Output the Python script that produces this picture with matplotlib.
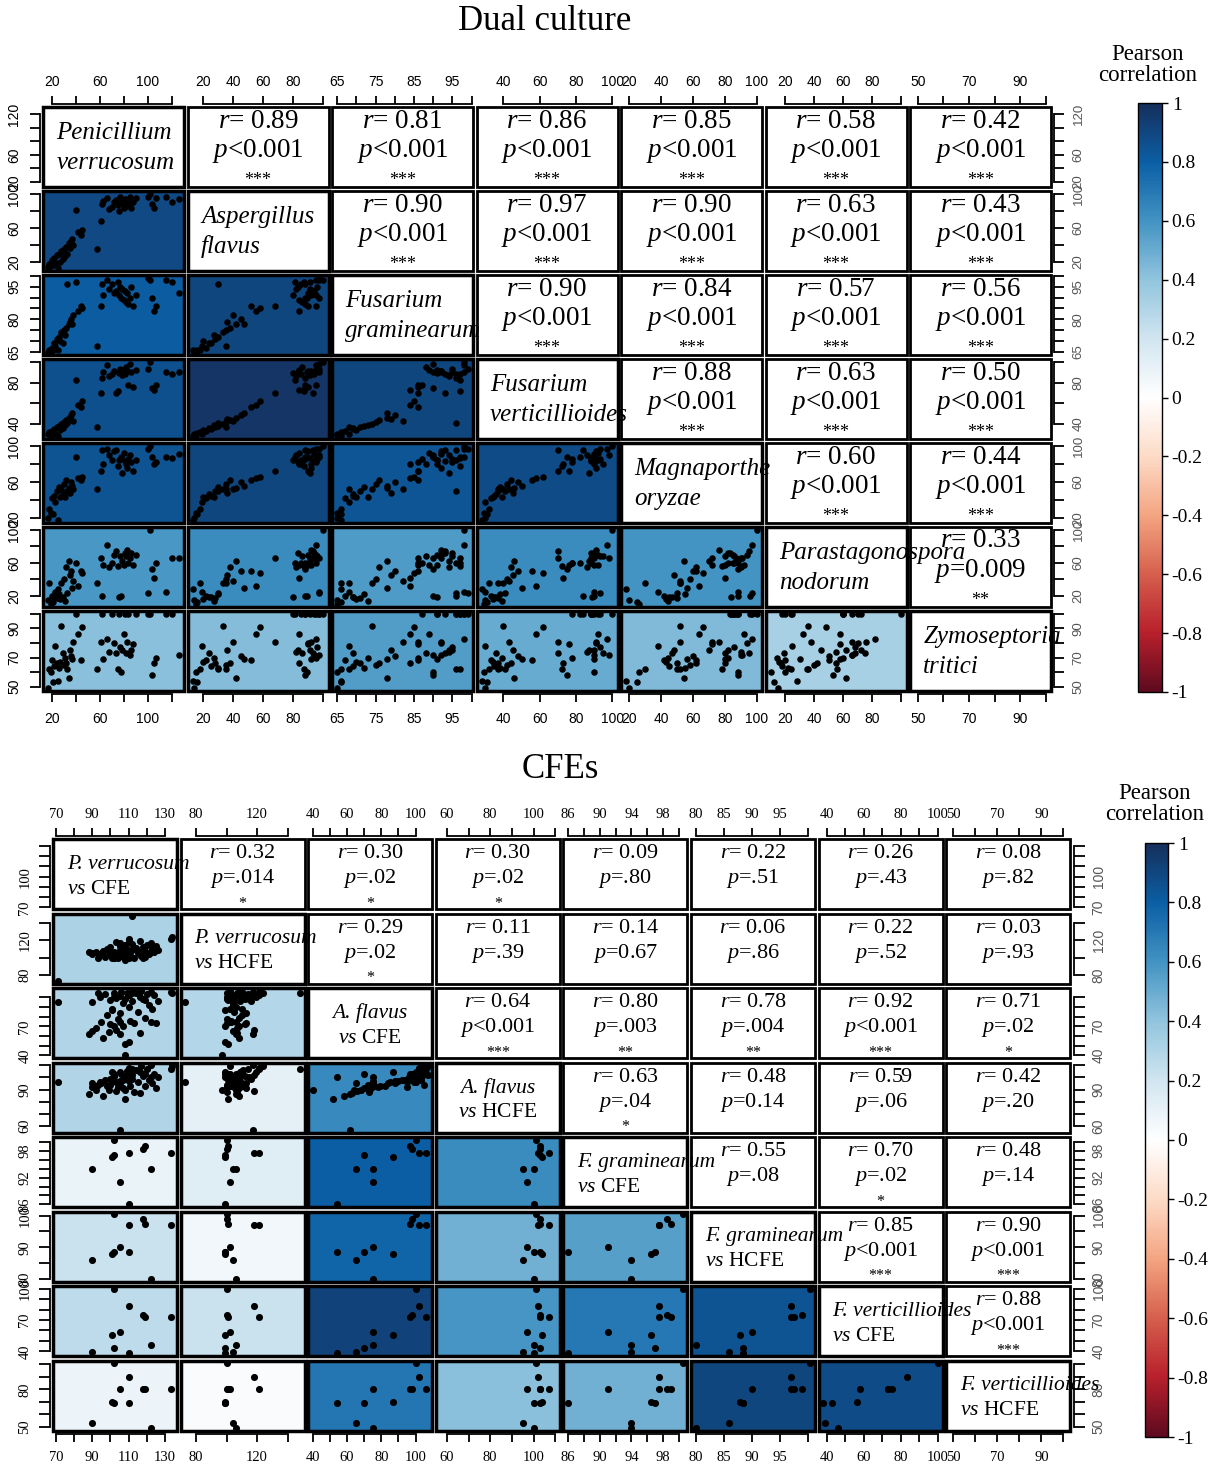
import numpy as np
import matplotlib
matplotlib.use("Agg")
import matplotlib.pyplot as plt
from matplotlib.colors import LinearSegmentedColormap, Normalize
from matplotlib.patches import Rectangle
from matplotlib.cm import ScalarMappable

plt.rcParams['mathtext.fontset'] = 'custom'
plt.rcParams['mathtext.rm'] = 'Liberation Serif'
plt.rcParams['mathtext.it'] = 'Liberation Serif:italic'
SERIF = 'Liberation Serif'
SANS = 'Liberation Sans'

# ---------------------------------------------------------------- data: Dual culture
dual_names = [["Penicillium", "verrucosum"], ["Aspergillus", "flavus"], ["Fusarium", "graminearum"],
              ["Fusarium", "verticillioides"], ["Magnaporthe", "oryzae"],
              ["Parastagonospora", "nodorum"], ["Zymoseptoria", "tritici"]]
p_verrucosum = [17, 18, 19, 20, 21, 22, 23, 24, 25, 26, 27, 28, 29, 30, 31, 32, 33, 34, 35, 36, 37, 38, 40, 42, 44, 45,
                58, 61, 62, 63,
                66, 68, 70, 72, 74, 75, 76, 77, 78, 79, 80, 81, 82, 83, 84, 85, 86, 88, 90,
                100, 102, 104, 105, 107, 115, 120, 126]
a_flavus = [14, 18, 15, 22, 16, 25, 19, 28, 13, 30, 20, 33, 24, 35, 27, 38, 30, 42, 36, 45, 47, 40, 81, 55, 52, 58,
            35, 68, 88, 92,
            95, 82, 85, 90, 93, 87, 80, 96, 89, 91, 84, 94, 86, 92, 88, 97, 83, 90, 95,
            97, 100, 88, 84, 95, 97, 91, 94]
f_graminearum = [65, 66, 65, 67, 66, 69, 68, 71, 66, 72, 70, 74, 69, 75, 73, 76, 96, 78, 79, 80, 78, 82, 97, 84, 86, 85,
                 68, 86, 96, 91,
                 98, 94, 96, 92, 93, 97, 91, 95, 90, 94, 89, 93, 88, 92, 87, 90, 95, 86, 91,
                 99, 98, 90, 84, 86, 98, 97, 92]
f_verticillioides = [30, 32, 29, 33, 31, 35, 30, 37, 28, 38, 34, 40, 36, 42, 39, 44, 41, 46, 45, 48, 50, 43, 82, 58, 56, 62,
                     37, 70, 84, 90,
                     97, 86, 88, 91, 70, 72, 89, 93, 90, 87, 92, 88, 95, 91, 78, 98, 90, 76, 92,
                     93, 100, 75, 73, 78, 90, 88, 90]
m_oryzae = [20, 30, 26, 42, 25, 45, 38, 50, 18, 55, 43, 52, 47, 58, 44, 62, 50, 54, 48, 60, 56, 52, 88, 64, 62, 66,
            52, 72, 96, 80,
            97, 90, 85, 94, 95, 78, 84, 86, 88, 70, 92, 83, 80, 76, 86, 90, 82, 72, 85,
            97, 100, 88, 80, 82, 88, 87, 91]
p_nodorum = [15, 35, 10, 20, 12, 18, 25, 17, 28, 22, 16, 36, 19, 40, 14, 55, 24, 62, 45, 50, 30, 38, 60, 32, 50, 48,
             36, 66, 20, 58,
             82, 55, 60, 70, 75, 56, 18, 68, 20, 62, 58, 72, 68, 76, 60, 66, 72, 58, 70,
             24, 100, 53, 42, 60, 25, 66, 66]
z_tritici = [49, 62, 60, 68, 53, 64, 78, 66, 54, 63, 67, 92, 73, 65, 70, 66, 62, 56, 75, 71, 69, 81, 100, 86, 68, 91,
             62, 81, 100, 69,
             83, 74, 100, 80, 73, 62, 100, 77, 60, 75, 86, 100, 73, 81, 100, 72, 75, 79, 100,
             100, 100, 58, 66, 70, 100, 100, 72]
dual_data = [p_verrucosum, a_flavus, f_graminearum, f_verticillioides, m_oryzae, p_nodorum, z_tritici]

dual_r = [[0.89, 0.81, 0.86, 0.85, 0.58, 0.42],
          [0.90, 0.97, 0.90, 0.63, 0.43],
          [0.90, 0.84, 0.57, 0.56],
          [0.88, 0.63, 0.50],
          [0.60, 0.44],
          [0.33]]
dual_p = [["<0.001"] * 6, ["<0.001"] * 5, ["<0.001"] * 4, ["<0.001"] * 3, ["<0.001"] * 2, ["=0.009"]]
dual_stars = [["***"] * 6, ["***"] * 5, ["***"] * 4, ["***"] * 3, ["***"] * 2, ["**"]]

dual_ticks = [[20, 40, 60, 80, 100, 120], [20, 40, 60, 80, 100], [65, 70, 75, 80, 85, 90, 95, 100],
              [40, 60, 80, 100], [20, 40, 60, 80, 100], [20, 40, 60, 80, 100], [50, 60, 70, 80, 90, 100]]
dual_xlab = [[20, 60, 100], [20, 40, 60, 80], [65, 75, 85, 95], [40, 60, 80, 100],
             [20, 40, 60, 80, 100], [20, 40, 60, 80], [50, 70, 90]]
dual_ylab = [[20, 60, 120], [20, 60, 100], [65, 80, 95], [40, 80], [20, 60, 100], [20, 60, 100], [50, 70, 90]]

# ---------------------------------------------------------------- data: CFEs
NA = np.nan
cfe_names = [("P. verrucosum", "CFE"), ("P. verrucosum", "HCFE"), ("A. flavus", "CFE"), ("A. flavus", "HCFE"),
             ("F. graminearum", "CFE"), ("F. graminearum", "HCFE"), ("F. verticillioides", "CFE"),
             ("F. verticillioides", "HCFE")]
cfe_center = [False, False, True, True, False, False, False, False]
pv_cfe = [88, 90, 92, 94, 95, 96, 97, 98, 99, 100, 100, 101, 102, 103, 103, 104, 105, 105, 106, 107,
          107, 108, 108, 109, 110, 110, 111, 112, 112, 113, 114, 115, 116, 116, 117, 118, 119, 120, 121, 122,
          123, 124, 125, 126, 93,
          71, 112, 134, 108, 105,
          90, 101, 102, 102, 105, 110, 110, 118, 119, 122, 133]
pv_hcfe = [106, 105, 107, 104, 103, 108, 101, 110, 106, 104, 112, 102, 107, 118, 105, 100, 109, 113, 102, 108,
           104, 115, 101, 110, 106, 121, 103, 109, 116, 100, 111, 105, 119, 107, 102, 112, 108, 114, 104, 117,
           110, 106, 113, 109, 100,
           73, 148, 124, 97, 117,
           104, 99, 100, 99, 102, 118, 99, 100, 101, 106, 121]
af_cfe = [62, 95, 68, 100, 75, 58, 103, 82, 64, 97, 72, 88, 104, 66, 99, 78, 101, 84, 106, 70,
          94, 98, 52, 105, 90, 102, 76, 107, 96, 73, 104, 85, 100, 63, 107, 98, 79, 103, 92, 106,
          88, 102, 74, 96, 105,
          95, 105, 105, 40, 62,
          65, 87, 100, 70, 75, 102, 54, 98, 97, 75, 106]
af_hcfe = [86, 92, 90, 96, 95, 85, 98, 93, 90, 99, 94, 97, 101, 89, 96, 92, 104, 95, 103, 91,
           98, 100, 82, 105, 97, 108, 93, 102, 99, 88, 106, 96, 104, 87, 109, 101, 93, 107, 98, 110,
           95, 103, 91, 100, 94,
           96, 107, 109, 90, 57,
           95, 104, 101, 103, 97, 102, 100, 103, 103, 100, 107]
fg_cfe = [NA] * 50 + [94, 96.5, 100.5, 97, 91, 97.5, 86, 98.5, 99, 94, 97.5]
fg_hcfe = [NA] * 50 + [86, 88, 100.5, 88.5, 90, 97, 88.5, 99, 97.5, 80, 97]
fv_cfe = [NA] * 50 + [39, 56, 100, 43, 58, 83, 38, 75, 73, 46, 73]
fv_hcfe = [NA] * 50 + [53, 70, 101, 69, 80, 90, 69, 80, 80.5, 49, 80.5]
cfe_data = [pv_cfe, pv_hcfe, af_cfe, af_hcfe, fg_cfe, fg_hcfe, fv_cfe, fv_hcfe]

cfe_r = [[0.32, 0.30, 0.30, 0.09, 0.22, 0.26, 0.08],
         [0.29, 0.11, 0.14, 0.06, 0.22, 0.03],
         [0.64, 0.80, 0.78, 0.92, 0.71],
         [0.63, 0.48, 0.59, 0.42],
         [0.55, 0.70, 0.48],
         [0.85, 0.90],
         [0.88]]
cfe_p = [["=.014", "=.02", "=.02", "=.80", "=.51", "=.43", "=.82"],
         ["=.02", "=.39", "=0.67", "=.86", "=.52", "=.93"],
         ["<0.001", "=.003", "=.004", "<0.001", "=.02"],
         ["=.04", "=0.14", "=.06", "=.20"],
         ["=.08", "=.02", "=.14"],
         ["<0.001", "<0.001"],
         ["<0.001"]]
cfe_stars = [["*", "*", "*", "", "", "", ""],
             ["*", "", "", "", "", ""],
             ["***", "**", "**", "***", "*"],
             ["*", "", "", ""],
             ["", "*", ""],
             ["***", "***"],
             ["***"]]
cfe_ticks = [[70, 80, 90, 100, 110, 120, 130], [80, 100, 120, 140], [40, 50, 60, 70, 80, 90, 100, 110],
             [60, 70, 80, 90, 100, 110], [86, 88, 90, 92, 94, 96, 98, 100], [80, 85, 90, 95, 100],
             [40, 50, 60, 70, 80, 90, 100], [50, 60, 70, 80, 90, 100]]
cfe_xlab = [[70, 90, 110, 130], [80, 120], [40, 60, 80, 100], [60, 80, 100], [86, 90, 94, 98],
            [80, 85, 90, 95], [40, 60, 80, 100], [50, 70, 90]]
cfe_ylab = [[70, 100], [80, 120], [40, 70, 110], [60, 90], [86, 92, 98], [80, 90, 100], [40, 70, 100], [50, 80]]

cbar_ticks = [1, 0.8, 0.6, 0.4, 0.2, 0, -0.2, -0.4, -0.6, -0.8, -1]
cbar_labels = ["1", "0.8", "0.6", "0.4", "0.2", "0", "-0.2", "-0.4", "-0.6", "-0.8", "-1"]

# ---------------------------------------------------------------- styling
cmap = LinearSegmentedColormap.from_list(
    "corrRdBu", ["#5F0A1F", "#B8202C", "#D6604D", "#F4A582", "#FDDBC7", "#FFFFFF",
                 "#D1E5F0", "#92C5DE", "#4393C3", "#0B5FA5", "#152F5C"])
norm = Normalize(-1, 1)

W, H = 1215, 1467
fig = plt.figure(figsize=(W / 100, H / 100), dpi=100)


def add_ax(x0, y0, w, h):
    return fig.add_axes([x0 / W, 1 - (y0 + h) / H, w / W, h / H])


def fmt(v):
    return str(int(v)) if float(v).is_integer() else str(v)


def draw_grid(data, names, r_up, p_up, s_up, ticks, xlab, ylab, g):
    n = len(data)
    arrs = [np.array(d, dtype=float) for d in data]
    lims = []
    for a in arrs:
        lo, hi = np.nanmin(a), np.nanmax(a)
        pad = 0.04 * (hi - lo)
        lims.append((lo - pad, hi + pad))
    later_texts = []
    for i in range(n):
        for j in range(n):
            x0 = g['left'] + j * g['px']
            y0 = g['top'] + i * g['py']
            ax = add_ax(x0, y0, g['w'], g['h'])
            ax.set_xlim(lims[j])
            ax.set_ylim(lims[i])
            for sp in ax.spines.values():
                sp.set_visible(False)
            ax.tick_params(top=False, bottom=False, left=False, right=False,
                           labeltop=False, labelbottom=False, labelleft=False, labelright=False)
            ax.add_patch(Rectangle((0, 0), 1, 1, transform=ax.transAxes, fill=False,
                                   lw=g['box_lw'] + (0.5 if i >= j else 0), ec='black',
                                   clip_on=False, zorder=6))
            if i > j:
                r = r_up[j][i - j - 1]
                ax.set_facecolor(cmap(norm(r)))
                ax.scatter(arrs[j], arrs[i], s=g['ms'], c='black', linewidths=0, zorder=3)
            elif i < j:
                k = j - i - 1
                ax.text(0.5, g['ry'], r"$\mathit{r}$" + g['req'] + f"{r_up[i][k]:.2f}",
                        transform=ax.transAxes, ha='center', va='center',
                        fontsize=g['fs_r'], family=SERIF)
                ax.text(0.5, g['py_'], r"$\mathit{p}$" + p_up[i][k],
                        transform=ax.transAxes, ha='center', va='center',
                        fontsize=g['fs_r'], family=SERIF)
                if s_up[i][k]:
                    ax.text(0.5, g['sy'], s_up[i][k], transform=ax.transAxes, ha='center',
                            va='baseline', fontsize=g['fs_s'], family=SERIF)
            else:
                later_texts.append((ax, i))
            # outer axes
            if i == 0 or i == n - 1:
                side = 'top' if i == 0 else 'bottom'
                tk = [t for t in ticks[j] if lims[j][0] <= t <= lims[j][1]]
                lb = [fmt(t) if t in xlab[j] else '' for t in tk]
                if side == 'top':
                    ax.xaxis.tick_top()
                else:
                    ax.xaxis.tick_bottom()
                ax.set_xticks(tk, lb)
                sp = ax.spines[side]
                sp.set_visible(True)
                sp.set_position(('outward', 2.5))
                sp.set_bounds(tk[0], tk[-1])
                sp.set_linewidth(1.3)
                ax.tick_params(axis='x', which='both', direction='out', length=5.5, width=1.3,
                               top=(side == 'top'), bottom=(side == 'bottom'),
                               labeltop=(side == 'top'), labelbottom=(side == 'bottom'),
                               labelsize=g['fs_t'], labelfontfamily=g['tfam'],
                               pad=g['xpad_top'] if side == 'top' else g['xpad_bot'])
            if j == 0 or j == n - 1:
                side = 'left' if j == 0 else 'right'
                tk = [t for t in ticks[i] if lims[i][0] <= t <= lims[i][1]]
                lb = [fmt(t) if t in ylab[i] else '' for t in tk]
                if side == 'left':
                    ax.yaxis.tick_left()
                else:
                    ax.yaxis.tick_right()
                ax.set_yticks(tk, lb)
                sp = ax.spines[side]
                sp.set_visible(True)
                sp.set_position(('outward', 2.5))
                sp.set_bounds(tk[0], tk[-1])
                sp.set_linewidth(1.3)
                ax.tick_params(axis='y', which='both', direction='out', length=g['ylen'], width=1.3,
                               left=(side == 'left'), right=(side == 'right'),
                               labelleft=(side == 'left'), labelright=(side == 'right'),
                               labelrotation=90,
                               labelsize=g['fs_t'] if side == 'left' else g['fs_t'] - 0.5,
                               labelfontfamily=g['tfam'] if side == 'left' else SANS,
                               labelcolor='black' if side == 'left' else '#555555',
                               pad=g['ypad'])
                for lab in ax.get_yticklabels():
                    lab.set_va('center')
    return later_texts


# ---------------------------------------------------------------- Dual culture grid
g_top = dict(left=43, px=144.5, w=141, top=107, py=84, h=80, box_lw=2.0, ms=22,
             ry=0.825, py_=0.45, sy=0.03, req="= ", fs_r=19.5, fs_s=13,
             fs_t=10, tfam=SANS, xpad_top=5, xpad_bot=7, ypad=6, ylen=7)
dtexts = draw_grid(dual_data, dual_names, dual_r, dual_p, dual_stars,
                   dual_ticks, dual_xlab, dual_ylab, g_top)
for ax, i in dtexts:
    fig.text(0.095, 0.67, dual_names[i][0], transform=ax.transAxes, ha='left', va='center',
             fontsize=18, family=SERIF, style='italic', zorder=10)
    fig.text(0.095, 0.30, dual_names[i][1], transform=ax.transAxes, ha='left', va='center',
             fontsize=18, family=SERIF, style='italic', zorder=10)

# ---------------------------------------------------------------- CFE grid
g_bot = dict(left=53, px=127.6, w=124, top=839, py=74.5, h=70, box_lw=2.0, ms=26,
             ry=0.79, py_=0.43, sy=0.02, req="= ", fs_r=16, fs_s=11.5,
             fs_t=10.5, tfam=SERIF, xpad_top=5, xpad_bot=7, ypad=5, ylen=8)
ctexts = draw_grid(cfe_data, cfe_names, cfe_r, cfe_p, cfe_stars,
                   cfe_ticks, cfe_xlab, cfe_ylab, g_bot)
for ax, i in ctexts:
    name, kind = cfe_names[i]
    if cfe_center[i]:
        xx, ha = 0.5, 'center'
    else:
        xx, ha = 0.11, 'left'
    fig.text(xx, 0.64, name, transform=ax.transAxes, ha=ha, va='center',
             fontsize=15.5, family=SERIF, style='italic', zorder=10)
    fig.text(xx, 0.28, r"$\mathit{vs}$ " + kind, transform=ax.transAxes, ha=ha, va='center',
             fontsize=15.5, family=SERIF, zorder=10)

# ---------------------------------------------------------------- titles
fig.text(545 / W, 1 - 22 / H, "Dual culture", ha='center', va='center', fontsize=25, family=SERIF)
fig.text(560 / W, 1 - 770 / H, "CFEs", ha='center', va='center', fontsize=25, family=SERIF)


# ---------------------------------------------------------------- colorbars
def colorbar(x0, y0, w, h, tx, ty):
    cax = add_ax(x0, y0, w, h)
    cb = fig.colorbar(ScalarMappable(norm=norm, cmap=cmap), cax=cax)
    cb.set_ticks(cbar_ticks)
    cb.set_ticklabels(cbar_labels)
    cax.tick_params(labelsize=14, length=4, width=1, pad=3)
    for lab in cax.get_yticklabels():
        lab.set_family(SERIF)
    cb.outline.set_linewidth(1)
    fig.text(tx / W, 1 - ty / H, "Pearson\ncorrelation", ha='center', va='center',
             fontsize=16.5, family=SERIF, linespacing=1.0)


colorbar(1138, 103, 24, 589, 1148, 65)
colorbar(1145, 843, 23, 594, 1155, 804)

fig.savefig("out.png", dpi=100)
